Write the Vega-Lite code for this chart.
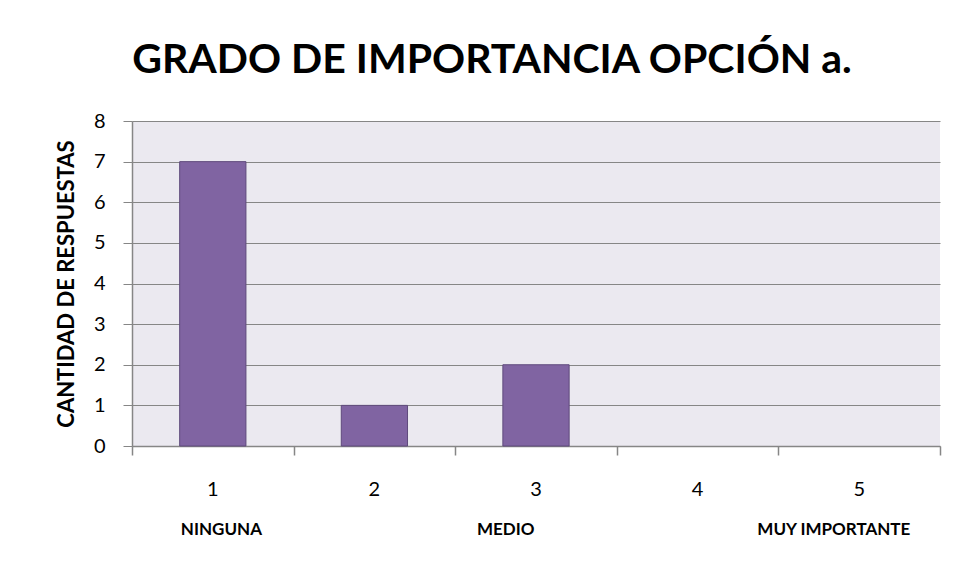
{
  "$schema": "https://vega.github.io/schema/vega-lite/v6.json",
  "width": 808,
  "height": 325,
  "autosize": {"type": "none"},
  "padding": {"left": 132, "top": 121, "right": 16, "bottom": 130},
  "background": "white",
  "title": {
    "text": "GRADO DE IMPORTANCIA OPCIÓN a.",
    "font": "Lato",
    "fontSize": 41,
    "fontWeight": "bold",
    "color": "#000000",
    "anchor": "middle",
    "frame": "group",
    "dx": -44,
    "offset": 29
  },
  "config": {
    "view": {"fill": "#EBE9F0", "stroke": null},
    "font": "Lato"
  },
  "data": {
    "values": [
      {"opcion": 1, "cantidad": 7},
      {"opcion": 2, "cantidad": 1},
      {"opcion": 3, "cantidad": 2},
      {"opcion": 4, "cantidad": 0},
      {"opcion": 5, "cantidad": 0}
    ]
  },
  "layer": [
    {
      "mark": {"type": "bar", "color": "#8064A2", "stroke": "#5F4A7C"},
      "encoding": {
        "x": {
          "field": "opcion",
          "type": "ordinal",
          "scale": {"paddingInner": 0.59, "paddingOuter": 0.295},
          "axis": {
            "title": null,
            "orient": "bottom",
            "labelAngle": 0,
            "labelFont": "Lato",
            "labelFontSize": 20,
            "labelColor": "#000000",
            "ticks": false,
            "tickSize": 0,
            "labelPadding": 33,
            "domainColor": "#868686",
            "domainWidth": 1.5,
            "grid": false
          }
        },
        "y": {
          "field": "cantidad",
          "type": "quantitative",
          "scale": {"domain": [0, 8], "nice": false},
          "axis": {
            "values": [0, 1, 2, 3, 4, 5, 6, 7, 8],
            "title": "CANTIDAD DE RESPUESTAS",
            "titleFont": "Lato",
            "titleFontSize": 22,
            "titleFontWeight": "bold",
            "titleColor": "#000000",
            "titlePadding": 15,
            "labelFont": "Lato",
            "labelFontSize": 20,
            "labelColor": "#000000",
            "labelPadding": 18,
            "tickSize": 9,
            "tickColor": "#868686",
            "gridColor": "#868686",
            "domainColor": "#868686",
            "domainWidth": 1.5
          }
        },
        "strokeWidth": {"condition": {"test": "datum.cantidad == 0", "value": 0}, "value": 1}
      }
    },
    {
      "mark": {"type": "tick", "opacity": 0},
      "encoding": {
        "x": {
          "field": "opcion",
          "type": "quantitative",
          "scale": {"domain": [0.5, 5.5], "nice": false, "zero": false},
          "axis": {
            "orient": "bottom",
            "title": null,
            "values": [0.5, 1.05, 1.5, 2.5, 2.81, 3.5, 4.5, 4.84, 5.5],
            "labelExpr": "datum.value == 1.05 ? 'NINGUNA' : datum.value == 2.81 ? 'MEDIO' : datum.value == 4.84 ? 'MUY IMPORTANTE' : ''",
            "tickOpacity": {"condition": {"test": "indexof([0.5, 1.5, 2.5, 3.5, 4.5, 5.5], datum.value) < 0", "value": 0}, "value": 1},
            "tickSize": 9,
            "tickColor": "#868686",
            "tickWidth": 1.5,
            "domain": false,
            "grid": false,
            "labelFont": "Lato",
            "labelFontSize": 17,
            "labelFontWeight": "bold",
            "labelColor": "#000000",
            "labelPadding": 66,
            "labelOverlap": false,
            "labelFlush": false,
            "labelBound": false
          }
        },
        "y": {"field": "cantidad", "type": "quantitative"}
      }
    }
  ],
  "resolve": {"scale": {"x": "independent"}}
}
